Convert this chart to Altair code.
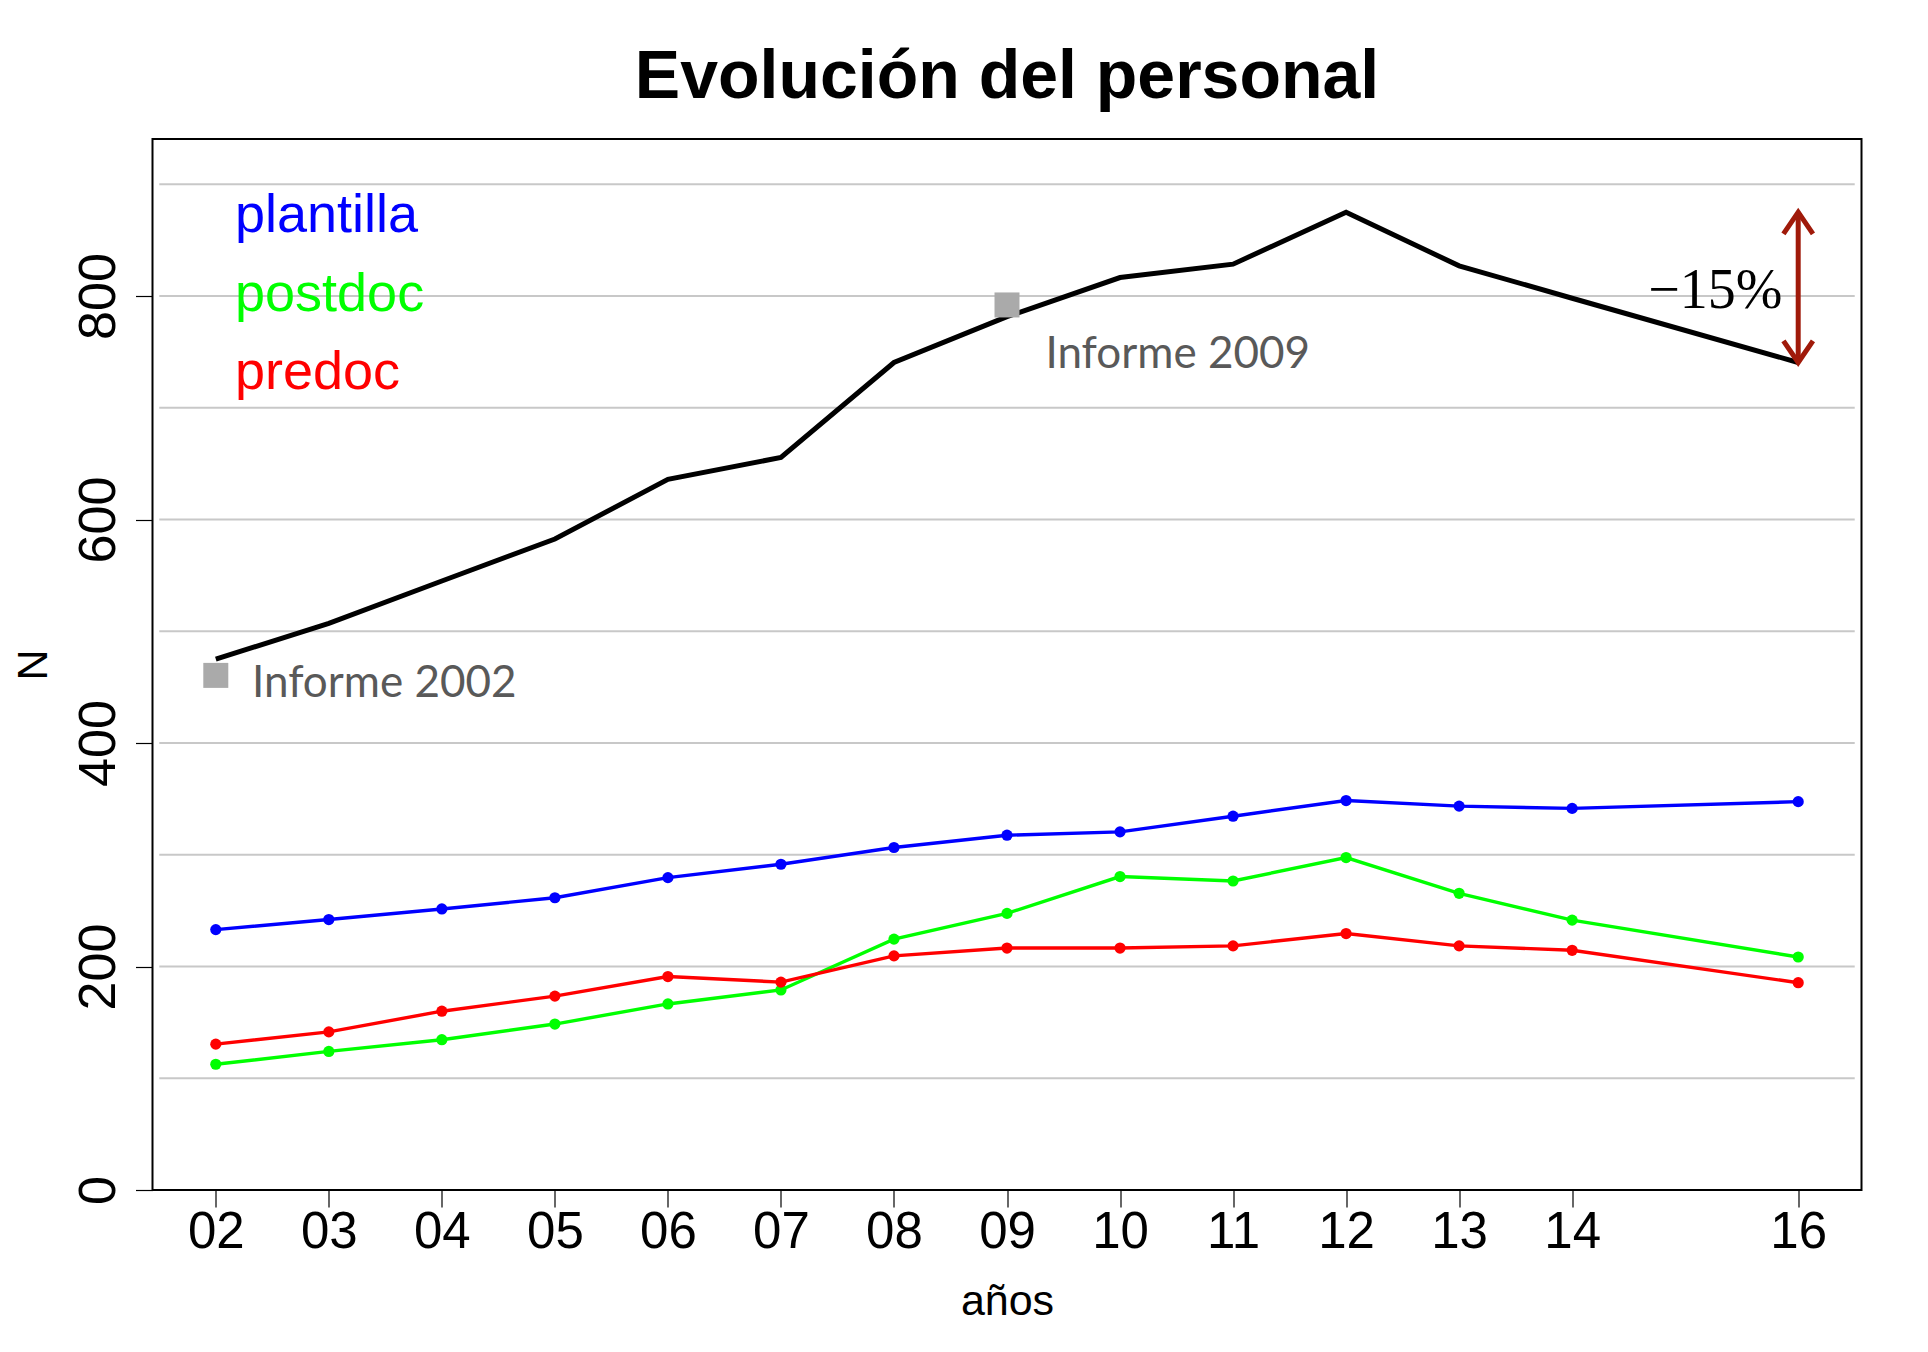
import altair as alt
import pandas as pd

# ---- data ----
years = [2, 3, 4, 5, 6, 7, 8, 9, 10, 11, 12, 13, 14, 16]
year_labels = ["02", "03", "04", "05", "06", "07", "08", "09", "10", "11", "12", "13", "14", "16"]
total = [475, 507, 545, 582.5, 636, 655.5, 740.5, 781.5, 816.5, 828.5, 875, 827, 798, 740.5]
plantilla = [233, 242, 251.5, 261.5, 279.5, 291.5, 306.5, 317.5, 320.5, 334.5, 348.5, 343.5, 341.5, 347.5]
postdoc = [112.5, 124, 134.5, 148.5, 166.5, 179, 224.5, 247.5, 280.5, 276.5, 297.5, 265.5, 241.5, 208.5]
predoc = [130.5, 141.5, 160, 173.5, 191, 186, 209.5, 216.5, 216.5, 218.5, 229.5, 218.5, 214.5, 185.5]

series_names = ["plantilla", "postdoc", "predoc"]
series_colors = ["#0000ff", "#00ff00", "#ff0000"]

y_ticks = [0, 200, 400, 600, 800]
grid_values = [100, 200, 300, 400, 500, 600, 700, 800, 900]

# informe markers
informe_labels = ["Informe 2002", "Informe 2009"]
informe_years = [2, 9]
informe_values = [460.5, 792]
informe_text_x = [2.32, 9.34]
informe_text_y = [441, 736]

# legend anchors
legend_x = [2.17, 2.17, 2.17]
legend_y = [857, 787, 717]

# -15% annotation
drop_label = "\u221215%"
drop_year = 16
drop_from = 875
drop_to = 740.5
drop_label_x = 15.86
drop_label_y = 789

X_DOMAIN = [1.44, 16.56]
Y_DOMAIN = [0, 940.5]

label_expr = "[" + ",".join("'%s'" % s for s in year_labels) + "][indexof([" + \
    ",".join(str(v) for v in years) + "], datum.value)]"

x_axis = alt.Axis(
    values=years, labelExpr=label_expr, title="años", grid=False, domain=False,
    labelFont="Liberation Sans", labelFontSize=51, labelColor="black",
    labelPadding=0, tickSize=17, tickColor="black", tickWidth=1.2,
    titleFont="Liberation Sans", titleFontSize=43, titleFontWeight="normal",
    titleColor="black", titleBaseline="alphabetic", titleY=124,
)
y_axis = alt.Axis(
    values=y_ticks, title="N", grid=False, domain=False,
    labelFont="Liberation Sans", labelFontSize=52, labelColor="black",
    labelAngle=-90, labelAlign="center", labelBaseline="alphabetic",
    labelPadding=21, tickSize=17, tickColor="black", tickWidth=1.2,
    titleFont="Liberation Sans", titleFontSize=43, titleFontWeight="normal",
    titleColor="black", titleAngle=270, titleAlign="center",
    titleBaseline="middle", titleX=-119,
)

xs = alt.Scale(domain=X_DOMAIN, nice=False, zero=False)
ys = alt.Scale(domain=Y_DOMAIN, nice=False, zero=False)


def X(field="x"):
    return alt.X(f"{field}:Q", scale=xs, axis=x_axis)


def Y(field="y"):
    return alt.Y(f"{field}:Q", scale=ys, axis=y_axis)


# grid
grid_df = pd.DataFrame({"y": grid_values})
grid = alt.Chart(grid_df).mark_rule(color="#c8c8c8", strokeWidth=1.8).encode(
    y=Y(), x=alt.datum(1.5), x2=alt.datum(16.5)
)

# total line
tot_df = pd.DataFrame({"x": years, "y": total})
tot_line = alt.Chart(tot_df).mark_line(color="black", strokeWidth=5).encode(x=X(), y=Y())

# series
rows = []
for name, col, vals in zip(series_names, series_colors, [plantilla, postdoc, predoc]):
    for yr, v in zip(years, vals):
        rows.append({"x": yr, "y": v, "serie": name, "color": col})
ser_df = pd.DataFrame(rows)
ser_lines = alt.Chart(ser_df).mark_line(strokeWidth=3.4).encode(
    x=X(), y=Y(), detail="serie:N", color=alt.Color("color:N", scale=None)
)
ser_pts = alt.Chart(ser_df).mark_point(filled=True, size=125, opacity=1).encode(
    x=X(), y=Y(), color=alt.Color("color:N", scale=None)
)

# informe squares + labels
inf_df = pd.DataFrame({"x": informe_years, "y": informe_values})
inf_sq = alt.Chart(inf_df).mark_point(shape="square", filled=True, size=625,
                                      color="#aaaaaa", opacity=1).encode(x=X(), y=Y())
inf_txt_df = pd.DataFrame({"x": informe_text_x, "y": informe_text_y, "t": informe_labels})
inf_txt = alt.Chart(inf_txt_df).mark_text(
    align="left", baseline="alphabetic", font="Lato", fontSize=44, color="#595959"
).encode(x=X(), y=Y(), text="t:N")

# legend
leg_df = pd.DataFrame({"x": legend_x, "y": legend_y, "t": series_names, "color": series_colors})
leg = alt.Chart(leg_df).mark_text(
    align="left", baseline="alphabetic", font="Liberation Sans", fontSize=54
).encode(x=X(), y=Y(), text="t:N", color=alt.Color("color:N", scale=None))

# -15% arrow
arrow_color = "#a01a0a"
arr_df = pd.DataFrame({"x": [drop_year], "y": [drop_from], "y2": [drop_to]})
shaft = alt.Chart(arr_df).mark_rule(color=arrow_color, strokeWidth=5).encode(
    x=X(), y=Y(), y2="y2:Q"
)
head_top = alt.Chart(pd.DataFrame({"x": [drop_year], "y": [drop_from]})).mark_point(
    shape="M-0.68,1L0,0L0.68,1", size=1884, filled=False, stroke=arrow_color,
    strokeWidth=5, opacity=1
).encode(x=X(), y=Y())
head_bot = alt.Chart(pd.DataFrame({"x": [drop_year], "y": [drop_to]})).mark_point(
    shape="M-0.68,-1L0,0L0.68,-1", size=1884, filled=False, stroke=arrow_color,
    strokeWidth=5, opacity=1
).encode(x=X(), y=Y())
drop_txt = alt.Chart(pd.DataFrame({"x": [drop_label_x], "y": [drop_label_y], "t": [drop_label]})).mark_text(
    align="right", baseline="alphabetic", font="Liberation Serif", fontSize=56, color="black"
).encode(x=X(), y=Y(), text="t:N")

chart = alt.layer(
    grid, tot_line, ser_lines, ser_pts, inf_sq, inf_txt, leg, shaft, head_top, head_bot, drop_txt
).properties(
    width=1709, height=1051,
    title=alt.TitleParams("Evolución del personal", font="Liberation Sans", fontSize=68,
                          fontWeight="bold", color="black", anchor="middle", offset=27),
    autosize=alt.AutoSizeParams(type="none"),
    padding={"left": 144.5, "top": 131, "right": 50, "bottom": 150},
).configure_view(stroke="black", strokeWidth=2)

chart.save("out.html", embed_options={"renderer": "svg", "actions": False})
